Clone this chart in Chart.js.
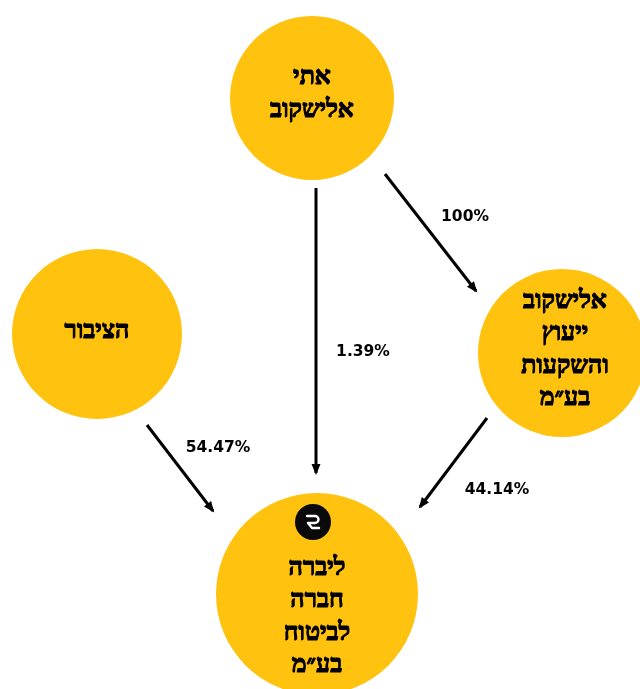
<!DOCTYPE html>
<html lang="he">
<head>
<meta charset="UTF-8">
<title>מבנה אחזקות - ליברה</title>
<script src="https://cdn.jsdelivr.net/npm/chart.js@4.4.1/dist/chart.umd.min.js"></script>
<style>
  html, body { margin: 0; padding: 0; background: #fff; }
  #wrap { width: 640px; height: 689px; }
</style>
</head>
<body>
<div id="wrap"><canvas id="chart" width="640" height="689"></canvas></div>
<script>
// Entities (circles)
const nodeNames = [
  ['אתי', 'אלישקוב'],
  ['הציבור'],
  ['אלישקוב', 'ייעוץ', 'והשקעות', 'בע״מ'],
  ['ליברה', 'חברה', 'לביטוח', 'בע״מ']
];
// layout in diagram units (0..640 x 0..689)
const nodeX = [312, 97, 562, 317];
const nodeY = [98, 334, 353, 594];
const nodeR = [82, 85, 84, 101];
const textX = [312, 97, 565, 317];
const textY = [94, 332, 350, 617];

// Holdings (arrows)
const shareLabels = ['1.39%', '100%', '54.47%', '44.14%'];
const arrowFrom = [[316, 188], [385, 174], [147, 425], [487, 418]];
const arrowTo   = [[316, 473], [476, 291], [213, 511], [420, 507]];
const labelX = [363, 465, 218, 497];
const labelY = [352, 217, 448, 490];

// company logo on the bottom circle
const logoX = 313, logoY = 522, logoR = 18;

const YELLOW = '#FFC20E';

const datasets = [];
arrowFrom.forEach((from, i) => {
  datasets.push({
    type: 'line',
    arrow: true,
    data: [{ x: from[0], y: from[1] }, { x: arrowTo[i][0], y: arrowTo[i][1] }],
    borderColor: '#000',
    borderWidth: 3,
    pointRadius: 0,
    fill: false,
    clip: false
  });
});
datasets.push({
  type: 'bubble',
  data: nodeX.map((x, i) => ({ x: x, y: nodeY[i], r: nodeR[i] })),
  backgroundColor: YELLOW,
  borderWidth: 0,
  hoverRadius: 0,
  clip: false,
  order: 1
});
// logo has to sit on top of the yellow circle
datasets.push({
  type: 'bubble',
  data: [{ x: logoX, y: logoY, r: logoR }],
  backgroundColor: '#0a0a0a',
  borderWidth: 0,
  hoverRadius: 0,
  clip: false,
  order: -1
});

// arrow heads
const arrowHeads = {
  id: 'arrowHeads',
  afterDatasetsDraw(chart) {
    const ctx = chart.ctx;
    chart.data.datasets.forEach((ds, i) => {
      if (!ds.arrow) return;
      const pts = chart.getDatasetMeta(i).data;
      const a = pts[0], b = pts[1];
      const ang = Math.atan2(b.y - a.y, b.x - a.x);
      const len = 9, half = 4.5;
      ctx.save();
      ctx.translate(b.x, b.y);
      ctx.rotate(ang);
      ctx.beginPath();
      ctx.moveTo(2, 0);
      ctx.lineTo(-len, -half);
      ctx.lineTo(-len, half);
      ctx.closePath();
      ctx.fillStyle = '#000';
      ctx.fill();
      ctx.restore();
    });
  }
};

// texts
const labels = {
  id: 'labels',
  afterDatasetsDraw(chart) {
    const ctx = chart.ctx;
    const sx = chart.scales.x, sy = chart.scales.y;
    ctx.save();
    ctx.fillStyle = '#000';
    ctx.strokeStyle = '#000';
    ctx.lineWidth = 1.1;
    ctx.lineJoin = 'round';
    ctx.textAlign = 'center';
    ctx.textBaseline = 'middle';
    ctx.direction = 'rtl';
    ctx.font = 'bold 25px "Liberation Serif", "DejaVu Serif", serif';
    const lh = 32.5;
    nodeNames.forEach((lines, i) => {
      const cx = sx.getPixelForValue(textX[i]);
      const cy = sy.getPixelForValue(textY[i]);
      const top = cy - (lines.length - 1) * lh / 2;
      lines.forEach((t, j) => {
        ctx.fillText(t, cx, top + j * lh);
        ctx.strokeText(t, cx, top + j * lh);
      });
    });

    ctx.direction = 'ltr';
    ctx.font = 'bold 15.5px "DejaVu Sans", sans-serif';
    shareLabels.forEach((t, i) => {
      ctx.fillText(t, sx.getPixelForValue(labelX[i]), sy.getPixelForValue(labelY[i]));
    });

    // logo glyph
    const lx = sx.getPixelForValue(logoX), ly = sy.getPixelForValue(logoY);
    ctx.strokeStyle = '#fff';
    ctx.lineWidth = 2.4;
    ctx.lineCap = 'round';
    ctx.beginPath();
    ctx.moveTo(lx - 6, ly - 6);
    ctx.lineTo(lx + 2, ly - 6);
    ctx.arc(lx + 2, ly - 2.5, 3.5, -Math.PI / 2, Math.PI / 2);
    ctx.lineTo(lx - 5, ly + 1);
    ctx.lineTo(lx - 1, ly + 6);
    ctx.lineTo(lx + 6, ly + 6);
    ctx.stroke();
    ctx.restore();
  }
};

new Chart(document.getElementById('chart'), {
  type: 'bubble',
  data: { datasets: datasets },
  options: {
    responsive: false,
    animation: false,
    events: [],
    layout: { padding: 0, autoPadding: false },
    plugins: { legend: { display: false }, tooltip: { enabled: false } },
    scales: {
      x: { type: 'linear', min: 0, max: 640, display: false },
      y: { type: 'linear', min: 0, max: 689, reverse: true, display: false }
    }
  },
  plugins: [arrowHeads, labels]
});
</script>
</body>
</html>
